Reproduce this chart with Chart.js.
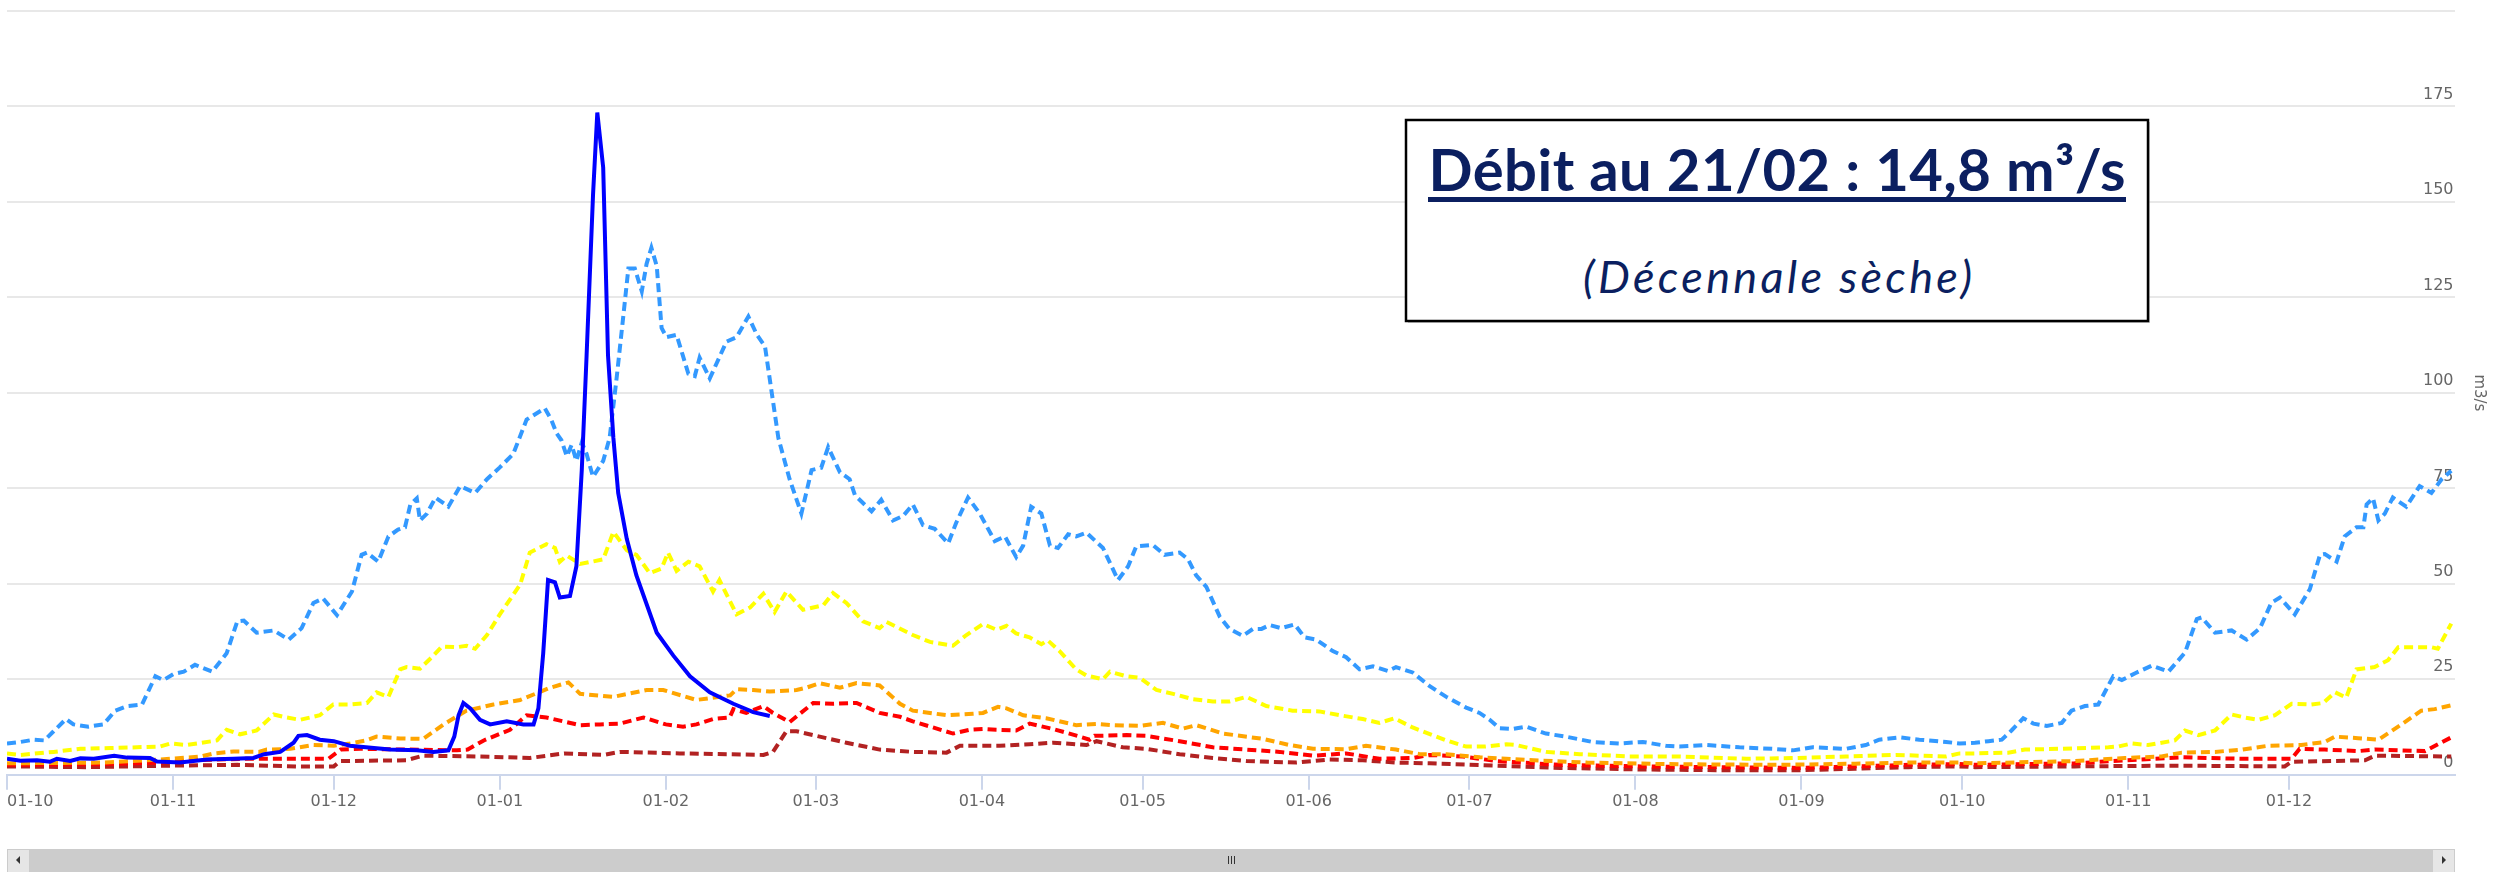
<!DOCTYPE html>
<html>
<head>
<meta charset="utf-8">
<script src="https://cdn.jsdelivr.net/npm/chart.js@4.4.1/dist/chart.umd.min.js"></script>
<style>
  html, body { margin: 0; padding: 0; background: #ffffff; }
  #wrap { position: relative; width: 2496px; height: 872px; overflow: hidden; }
  #chart { position: absolute; left: 0; top: 0; }
  #overlay { position: absolute; left: 0; top: 0; pointer-events: none; }
</style>
</head>
<body>
<div id="wrap">
  <canvas id="chart" width="2496" height="872"></canvas>
  <svg id="overlay" width="2496" height="872" xmlns="http://www.w3.org/2000/svg">
    <rect x="1408" y="122" width="742" height="201" fill="#9a9a9a" opacity="0.5"/>
    <rect x="1406" y="120" width="742" height="201" fill="#ffffff" stroke="#000000" stroke-width="2.5"/>
    <text id="t1" x="1777" y="190.5" text-anchor="middle" font-family="Lato" font-weight="700" font-size="58" fill="#0b1f60" textLength="697" lengthAdjust="spacing">Débit au 21/02 : 14,8 m³/s</text>
    <rect x="1428" y="197" width="698" height="5" fill="#0b1f60"/>
    <text id="t2" x="1777.5" y="292.5" text-anchor="middle" font-family="Lato" font-style="italic" font-size="45" fill="#0b1f60" textLength="389" lengthAdjust="spacing">(Décennale sèche)</text>
  </svg>
</div>
<script>
// x values are day numbers counted from 1 October (day 0) to 31 December of the following year
const monthStartDays = [0, 31, 61, 92, 123, 151, 182, 212, 243, 273, 304, 335, 365, 396, 426, 457];
const monthLabels = ['01-10','01-11','01-12','01-01','01-02','01-03','01-04','01-05','01-06','01-07','01-08','01-09','01-10','01-11','01-12',''];
const yTicksMax = 200;

// Observed daily discharge (solid blue)
const observed = [[0,4.2],[2.5,3.7],[5.6,3.8],[8,3.4],[9.3,4.2],[11.8,3.6],[13.7,4.3],[16.2,4.2],[20,5],[22.4,4.5],[26.7,4.4],[28,3.5],[32.3,3.2],[37.3,4],[42.3,4.2],[46,4.4],[48,5.4],[51,6],[53.5,8.4],[54.4,10.2],[56,10.4],[58.4,9.2],[61,8.8],[64,7.6],[67,7.2],[71.5,6.6],[76.5,6.4],[79.6,6],[82.4,6.4],[83.5,10],[84.3,15.6],[85.2,18.8],[86.5,17.4],[88.3,14.4],[90.2,13.2],[93.3,14],[96.4,13.2],[98.3,13.2],[99.2,17.4],[100.1,31.8],[101,51],[102.3,50.4],[103.2,46.4],[105.1,46.8],[106.3,54.6],[107.3,79.8],[108.2,109.8],[109.4,151.8],[110.2,173.4],[111.3,159],[112.2,109.8],[113.2,88.2],[114.1,73.8],[115.7,61.8],[117.5,52.2],[121.3,37.2],[124.4,31.2],[127.5,25.8],[131.2,21.6],[135.6,18.6],[139.3,16.4],[142.4,15.4]];

// Wet reference (dashed light blue)
const wetRef = [[0,8.2],[2.5,8.6],[5,9.2],[7,9],[8.7,11.4],[11,14.6],[12.4,13.2],[15.2,12.6],[18,13.2],[20.2,16.8],[22.4,18],[25.2,18.4],[27.7,25.8],[29.2,24.8],[31.1,26.4],[33,27],[35.1,28.8],[38.3,27],[41,31.8],[43,40.2],[44.2,40.4],[46.6,37.2],[49.8,37.8],[52.6,35.4],[55,38.4],[57.2,45],[59,46.2],[61.6,41.8],[64.4,48],[66.2,57.6],[67.2,58.2],[69.3,55.8],[71.2,62.4],[73,64.2],[74.3,64.8],[75.3,70.8],[76.5,72.4],[77.1,66.6],[78.4,68.4],[80,72.6],[82.4,70.2],[84.6,75.6],[87.4,73.8],[89.6,77.4],[92,80.5],[94.5,84],[97,93],[100.4,96],[101.6,93],[102.6,89.4],[103.5,87.6],[104.5,83.4],[105.4,86.4],[106.3,82.2],[107.3,87],[108.2,84],[109.4,78],[111.3,82.2],[112.5,88.2],[113.8,103.8],[115,119.4],[116,132.6],[117.2,132.6],[118.5,126.6],[119.4,133.8],[120.3,138],[121.3,133.2],[122.2,117],[123.1,114.6],[125,115.2],[127.2,105],[128.4,104.4],[129.3,109.2],[131.2,103.8],[134.3,113.4],[136.2,114.6],[138.4,120],[140,115.2],[141.5,112.2],[144,88.2],[146.1,77.4],[148.3,68.4],[150.2,79.8],[152,80.4],[153.3,85.8],[155.5,79.2],[157.3,77.4],[158.3,73.2],[161.4,69],[163.2,72],[165.4,66.6],[167.3,67.8],[169.1,70.8],[171,65.4],[173.2,64.4],[175.7,60.6],[177.2,66],[179.4,72.6],[181.6,68.4],[184.4,61.2],[186.3,62.4],[188.4,57],[189.7,60],[191.2,70.2],[193.1,68.4],[194.7,60],[196.2,59.4],[198.1,63],[199.6,62.4],[201.5,63.4],[204.6,59.4],[207.4,51],[209.3,54.6],[210.8,59.8],[213.9,60.2],[216.1,57.6],[218.9,58.2],[220.5,56.4],[222,52.2],[223.9,49.2],[226.4,41.4],[228.2,38.2],[230.7,36.4],[232.6,38.2],[234.2,38.2],[235.7,39.2],[237.9,38.4],[240.4,39.4],[242.2,36],[244.4,35.4],[247.5,32.4],[250,30.8],[252.5,27.6],[255,28.4],[257.8,27.2],[259.3,28.2],[262.4,26.8],[265.6,23.2],[268.7,20.4],[272.4,17.6],[274.9,16.2],[276.8,14.4],[278.6,12.2],[281.1,12],[283.6,12.6],[287.3,10.8],[291,10],[296,8.6],[301,8.2],[305.4,8.6],[309.7,7.6],[312.2,7.4],[317.2,7.8],[323.4,7.2],[329.6,6.8],[333.4,6.4],[337.1,7.2],[343.3,6.8],[347,7.8],[349.5,9.2],[353.3,9.8],[357,9.2],[362,8.6],[364.5,8.2],[367.4,8.4],[369.9,8.8],[372.4,9.2],[374.2,11.6],[376.4,14.8],[378.3,13.4],[380.8,12.8],[383.6,13.6],[385.4,16.8],[387.9,18],[390.4,18.4],[393.2,25.8],[394.8,24.8],[397.3,26.6],[400.4,28.6],[403.5,27],[406.6,32],[408.8,40.8],[409.7,41.2],[412.2,37.2],[415.3,37.8],[418.1,35.4],[420.6,38.4],[422.7,45],[424.3,46.4],[427.1,42],[429.9,48.6],[431.8,57.6],[432.7,57.8],[434.9,55.8],[436.4,62.4],[438.6,64.8],[439.9,64.8],[440.5,70.8],[441.7,72.4],[442.7,66.6],[443.9,68.4],[445.4,72.6],[447.9,70.2],[450.4,75.6],[452.6,73.8],[454.5,77.4],[456.3,79.6]];

// Median (dashed yellow)
const median = [[0,5.6],[2.5,5.2],[8.7,6],[13.7,6.8],[19.3,7],[28.6,7.4],[30.5,8.2],[33.6,7.8],[39.2,9],[41,11.8],[43.5,10.6],[46.6,11.6],[49.8,15.8],[52.2,15],[54.7,14.4],[58.4,15.6],[60.9,18.4],[64,18.4],[67.2,18.8],[69,21.6],[71.2,20.4],[73.4,27.6],[74.6,28.2],[77.1,27.8],[79.6,31.2],[81.2,33.6],[83.9,33.4],[85.8,33.8],[87.4,33],[89.6,36.6],[92,42],[95.8,49.8],[97.6,58.2],[100.7,60.4],[102.3,59.4],[103.2,55.8],[104.5,57.4],[107,55.2],[111.3,56.4],[113.2,63.6],[115.7,58.8],[117.5,57.6],[120,52.8],[122.2,54],[123.4,58.2],[125,53.4],[127.2,55.8],[129.3,54.6],[131.8,48],[133,51],[136.2,42],[138.7,43.8],[141.2,47.4],[143.3,42.6],[145.5,48],[148.6,43.2],[152.4,44.4],[154.2,47.6],[156.7,45],[159.8,40.2],[162.9,38.4],[164.2,40],[169.1,36.6],[172.3,34.8],[176.6,33.8],[179.1,36.6],[182.2,39.5],[184.7,38],[186.6,39],[188.4,37],[190.9,36],[193.1,34.2],[194.3,35.2],[196.5,32.4],[199.6,27.6],[201.5,26],[204.6,25],[205.9,27],[209,25.8],[211.5,25.4],[214.6,22.2],[217.7,21.2],[221.4,19.8],[225.1,19.2],[228.2,19.2],[231.4,20.4],[235.1,18],[240,16.8],[245,16.6],[248.8,15.6],[253.1,14.6],[256.2,13.6],[259,14.8],[262.4,12.4],[268.7,9],[272.4,7.4],[276,7.4],[279.9,8],[281.7,7.8],[287.3,6],[293.6,5.4],[302.9,4.8],[312.2,4.8],[324.7,4.2],[334,4.4],[343.3,4.8],[352.6,5.2],[362,4.8],[364.5,5.6],[367.4,5.6],[373.6,5.8],[376.7,6.6],[383,6.8],[392.3,7.2],[394.1,7.4],[396.6,8.2],[399.7,7.8],[404.7,9],[406.6,11.6],[409.1,10.4],[412.2,11.6],[415.3,15.8],[417.8,15],[420.3,14.4],[423.4,15.6],[426.5,18.6],[430.2,18.4],[432.4,18.8],[434.6,21.6],[436.7,20.2],[438.6,27.6],[442,28.2],[444.5,30],[446.4,33.4],[449.5,33.4],[452.6,33.4],[453.8,33],[456.3,39.6]];

// Five-year dry (dashed orange)
const dry5 = [[0,3],[18,3.2],[28.7,4],[36.2,4.8],[38.6,5.6],[42.3,6.1],[47,6],[48.5,6.6],[52.9,6.8],[57.2,7.8],[61,7.6],[64,8.2],[67,9],[69,10],[73.4,9.5],[77.7,9.4],[81.5,13.2],[85.8,16.8],[90.8,18.4],[95.8,19.6],[101.4,22.8],[104.8,24.2],[107,21.2],[113.2,20.4],[119.4,22.2],[122.5,22.2],[128.7,19.6],[135,20.8],[136.2,22.4],[139.3,22.2],[142.4,21.8],[147.4,22.2],[149.2,22.8],[151.7,24],[155.5,22.8],[158.6,24],[162.9,23.4],[166.7,18.6],[169.1,16.8],[175.4,15.6],[180.3,16],[182.2,16.2],[185,17.8],[186.6,17.4],[189.7,15.6],[194,14.8],[199.6,13],[203.4,13.3],[206.5,13],[211.5,12.8],[215.8,13.6],[219.5,12.1],[222,13],[227,10.8],[234.5,9.4],[239.4,7.8],[243.8,6.8],[250,6.7],[253.7,7.6],[259.3,6.6],[263.7,5.4],[268.7,5.4],[275,4.6],[285,3.8],[295,3.2],[310,2.8],[330,2.6],[345,2.9],[355,3.2],[364.5,3.2],[367.4,3],[386,3.6],[395.4,4.4],[402.2,4.8],[406,5.8],[412.2,6],[417.2,6.6],[422.1,7.6],[428.3,7.8],[432.7,8.6],[434.6,10],[438.9,9.6],[442.7,9.2],[447,13.2],[450.7,16.8],[453.2,17.2],[456.3,18.2]];

// Ten-year dry (dashed red)
const dry10 = [[0,2.6],[18,2.8],[28.7,3.2],[34,3.8],[45,4.2],[60,4.2],[62.3,6.6],[66,6.8],[75,6.6],[84,6.4],[86,6.6],[89,9],[93.9,11.8],[97,15.6],[100.7,15],[104.5,13.8],[107,13],[110.7,13.2],[114.4,13.4],[118.8,15],[123,13.2],[126.2,12.6],[128.7,13.2],[131.8,14.6],[134.9,15],[135.6,17.2],[138,16.2],[141.2,18],[143,16.2],[146.1,13.8],[150.5,18.8],[154.2,18.6],[158.6,18.8],[162.9,16.2],[166.7,15.2],[169.1,14],[176.6,10.8],[179.7,11.8],[182.2,12],[184.7,11.8],[188.4,11.6],[190.9,13.4],[195.3,12],[200.3,10],[202.1,9.2],[203,10.2],[209,10.4],[212.7,10.2],[218.9,8.8],[225.1,7.2],[231.4,6.6],[237.6,6],[243.8,5],[250,5.6],[256.2,4.2],[262.4,4.4],[265.6,5.2],[271.8,4.8],[278,3.6],[290,2.6],[305,2.2],[320,2],[335,1.8],[345,2.2],[355,2.6],[364.5,2.8],[367.4,2.6],[386,3],[395.4,3.8],[406,4.6],[411,4.4],[417.2,4.2],[426.5,4.2],[428,6.8],[432.7,6.6],[438.9,6.2],[442,6.6],[451.4,6.2],[456.3,9.8]];

// Twenty-year dry (dashed dark red)
const dry20 = [[0,2.2],[15,2],[31,2.4],[43,2.6],[54,2.2],[61,2.2],[62.2,3.6],[74.5,3.8],[77.6,5],[88.3,4.8],[97.6,4.4],[104,5.6],[111.3,5.2],[114.4,6],[125.6,5.6],[141.2,5.2],[143,6],[145.5,11.4],[147.4,11.4],[150.5,10.4],[156.7,8.4],[162.9,6.6],[169.1,6],[175.4,5.8],[177.9,7.6],[185.3,7.6],[190.9,8],[195.3,8.4],[201.5,7.8],[203.4,8.8],[208.3,7.2],[212.7,6.8],[218.9,5.4],[225.1,4.4],[231.4,3.6],[240.7,3.2],[246.9,4],[253.1,3.8],[259.3,3.2],[265.6,3],[278,2.4],[290,1.8],[305,1.4],[320,1.2],[335,1.2],[345,1.6],[355,2],[364.5,2.2],[367.4,2],[386,2.2],[404.7,2.4],[425.2,2.2],[426.5,3.4],[440.2,3.8],[442,5],[456.3,4.8]];

const toPts = arr => arr.map(p => ({x: p[0], y: p[1]}));
const dash = [9, 5];

const scrollbarPlugin = {
  id: 'scrollbar',
  afterDraw(chart) {
    const ctx = chart.ctx;
    const a = chart.chartArea;
    const top = 849, h = 24;
    ctx.save();
    ctx.fillStyle = '#cccccc';
    ctx.fillRect(a.left, top, a.right - a.left, h);
    ctx.fillStyle = '#e6e6e6';
    ctx.fillRect(a.left, top, 23, h);
    ctx.fillRect(a.right - 23, top, 23, h);
    ctx.strokeStyle = '#cccccc';
    ctx.lineWidth = 1;
    ctx.strokeRect(a.left + 0.5, top + 0.5, 22, h - 1);
    ctx.strokeRect(a.right - 22.5, top + 0.5, 22, h - 1);
    ctx.fillStyle = '#333333';
    ctx.beginPath();
    ctx.moveTo(a.left + 9, top + 11); ctx.lineTo(a.left + 13, top + 7); ctx.lineTo(a.left + 13, top + 15); ctx.closePath();
    ctx.fill();
    ctx.beginPath();
    ctx.moveTo(a.right - 9, top + 11); ctx.lineTo(a.right - 13, top + 7); ctx.lineTo(a.right - 13, top + 15); ctx.closePath();
    ctx.fill();
    const cx = Math.round((a.left + a.right) / 2);
    ctx.strokeStyle = '#333333';
    for (let i = -1; i <= 1; i++) {
      ctx.beginPath();
      ctx.moveTo(cx + i * 3 + 0.5, top + 7);
      ctx.lineTo(cx + i * 3 + 0.5, top + 15);
      ctx.stroke();
    }
    ctx.restore();
  }
};

const lbl = {family: 'DejaVu Sans', size: 16};
const dashedStyle = {borderWidth: 4, borderDash: dash, pointRadius: 0, tension: 0, fill: false};

new Chart(document.getElementById('chart'), {
  type: 'line',
  data: {
    datasets: [
      {label: 'Débits observés', data: toPts(observed), borderColor: '#0000ff', borderWidth: 4, pointRadius: 0, tension: 0, fill: false},
      Object.assign({label: 'Quinquennale humide', data: toPts(wetRef), borderColor: '#3399ff'}, dashedStyle),
      Object.assign({label: 'Médiane', data: toPts(median), borderColor: '#ffff00'}, dashedStyle),
      Object.assign({label: 'Quinquennale sèche', data: toPts(dry5), borderColor: '#ffa500'}, dashedStyle),
      Object.assign({label: 'Décennale sèche', data: toPts(dry10), borderColor: '#ff0000'}, dashedStyle),
      Object.assign({label: 'Vicennale sèche', data: toPts(dry20), borderColor: '#b22222'}, dashedStyle)
    ]
  },
  options: {
    responsive: false,
    animation: false,
    events: [],
    layout: {padding: {left: 7, right: 4, top: 11, bottom: 59}},
    plugins: {legend: {display: false}, tooltip: {enabled: false}},
    scales: {
      x: {
        type: 'linear',
        min: monthStartDays[0],
        max: monthStartDays[monthStartDays.length - 1],
        afterBuildTicks: s => { s.ticks = monthStartDays.map(v => ({value: v})); },
        grid: {drawOnChartArea: false, drawTicks: true, tickLength: 15, lineWidth: 2,
               tickColor: c => (c.index === monthStartDays.length - 1 ? 'rgba(0,0,0,0)' : '#ccd6eb')},
        border: {display: true, color: '#ccd6eb', width: 2},
        ticks: {align: 'inner', padding: 2, maxRotation: 0, autoSkip: false, color: '#666666', font: lbl,
                callback: (v, i) => monthLabels[i]}
      },
      y: {
        position: 'right',
        min: 0, max: yTicksMax,
        grid: {color: '#e8e8e8', lineWidth: 2, drawTicks: false},
        border: {display: false},
        ticks: {stepSize: 25, mirror: true, padding: -1.5, labelOffset: -12, color: '#666666', font: lbl,
                callback: v => (v === yTicksMax ? '' : String(v))},
        title: {display: true, text: 'm3/s', color: '#666666', font: {family: 'DejaVu Sans', size: 15}, padding: {top: 4, bottom: 18}}
      }
    }
  },
  plugins: [scrollbarPlugin]
});
</script>
</body>
</html>
